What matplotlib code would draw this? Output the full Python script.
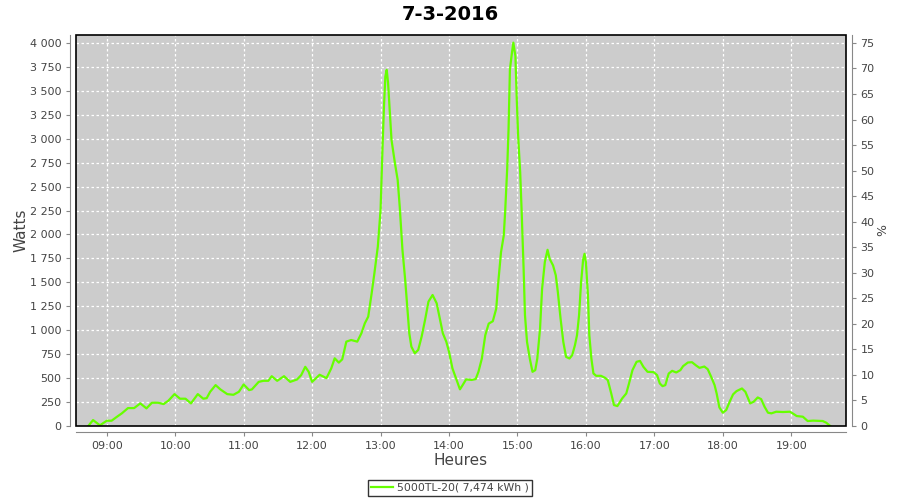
import matplotlib
matplotlib.use('Agg')
import matplotlib.pyplot as plt
from matplotlib.patches import Rectangle
from matplotlib.ticker import FuncFormatter, MultipleLocator

# time of day in decimal hours, power in W
hours = [8.73, 8.80, 8.90, 9.00, 9.07, 9.15, 9.22, 9.31, 9.40, 9.49, 9.58, 9.66, 9.75, 9.83, 9.90,
         9.99, 10.07, 10.15, 10.23, 10.33, 10.41, 10.46, 10.51, 10.59, 10.66, 10.76, 10.85, 10.93,
         11.00, 11.08, 11.12, 11.22, 11.29, 11.36, 11.41, 11.49, 11.59, 11.68, 11.78, 11.84, 11.90,
         11.95, 12.00, 12.11, 12.21, 12.28, 12.33, 12.39, 12.44, 12.50, 12.57, 12.66, 12.72, 12.77,
         12.82, 12.87, 12.91, 12.96, 13.00, 13.03, 13.05, 13.07, 13.09, 13.11, 13.13, 13.16, 13.21,
         13.25, 13.28, 13.32, 13.36, 13.39, 13.42, 13.45, 13.50, 13.55, 13.60, 13.65, 13.70, 13.76,
         13.82, 13.86, 13.91, 13.96, 14.00, 14.05, 14.11, 14.16, 14.20, 14.25, 14.33, 14.39, 14.43,
         14.48, 14.53, 14.58, 14.64, 14.69, 14.72, 14.76, 14.80, 14.82, 14.85, 14.87, 14.89, 14.92,
         14.94, 14.97, 14.99, 15.01, 15.04, 15.06, 15.09, 15.11, 15.14, 15.18, 15.22, 15.26, 15.29,
         15.33, 15.36, 15.40, 15.44, 15.47, 15.52, 15.56, 15.59, 15.63, 15.67, 15.71, 15.76, 15.80,
         15.84, 15.87, 15.90, 15.93, 15.96, 15.98, 16.00, 16.03, 16.05, 16.08, 16.11, 16.15, 16.22,
         16.28, 16.32, 16.37, 16.41, 16.46, 16.53, 16.59, 16.63, 16.68, 16.74, 16.79, 16.84, 16.90,
         16.99, 17.04, 17.08, 17.12, 17.16, 17.21, 17.26, 17.32, 17.38, 17.42, 17.49, 17.55, 17.61,
         17.66, 17.73, 17.78, 17.83, 17.88, 17.91, 17.95, 18.00, 18.05, 18.10, 18.15, 18.20, 18.28,
         18.33, 18.37, 18.40, 18.45, 18.51, 18.56, 18.61, 18.66, 18.71, 18.78, 18.88, 18.98, 19.02,
         19.08, 19.17, 19.24, 19.32, 19.46, 19.51, 19.57]
watts = [0, 62, 7, 55, 55, 97, 132, 187, 187, 236, 184, 243, 243, 229, 264,
         333, 285, 285, 236, 333, 285, 291, 357, 427, 382, 333, 326, 357,
         434, 375, 382, 461, 472, 472, 520, 472, 520, 461, 486, 531, 618,
         566, 461, 535, 500, 602, 707, 662, 696, 881, 898, 881, 968, 1072,
         1142, 1386, 1595, 1873, 2256, 2935, 3336, 3649, 3719, 3580, 3336, 2988, 2744,
         2570, 2291, 1839, 1525, 1247, 968, 829, 759, 794, 933, 1107, 1299, 1368,
         1281, 1142, 968, 881, 776, 602, 481, 383, 428, 487, 481, 490, 566,
         705, 948, 1069, 1094, 1226, 1503, 1816, 1989, 2233, 2684, 3100, 3725, 3899,
         4003, 3864, 3413, 3031, 2649, 2267, 1642, 1156, 878, 705, 566, 583, 705,
         1017, 1434, 1712, 1840, 1746, 1677, 1573, 1399, 1121, 878, 722, 705, 740,
         844, 948, 1156, 1503, 1739, 1798, 1712, 1364, 948, 705, 549, 524, 524,
         503, 479, 340, 219, 208, 288, 340, 444, 583, 670, 680, 618, 566,
         562, 531, 444, 416, 427, 548, 576, 559, 583, 625, 663, 666, 632,
         607, 621, 593, 514, 427, 340, 194, 139, 167, 253, 330, 364, 392,
         357, 288, 236, 253, 298, 281, 201, 139, 132, 149, 146, 149, 132,
         104, 97, 52, 56, 52, 35, 0]

hour_ticks = list(range(9, 20))
title = '7-3-2016'
series_label = '5000TL-20( 7,474 kWh )'

fig = plt.figure(figsize=(9, 5), dpi=100)
ax = fig.add_axes([0.0844, 0.148, 0.8556, 0.782])
ax.set_facecolor('#cccccc')

ax.plot(hours, watts, color='#66ff00', lw=1.6, label=series_label)

ax.set_xlim(8.55, 19.80)
ax.set_ylim(0, 4083)
ax.set_xticks(hour_ticks)
ax.xaxis.set_major_formatter(FuncFormatter(lambda v, p: '%02d:00' % int(round(v))))
ax.yaxis.set_major_locator(MultipleLocator(250))
ax.yaxis.set_major_formatter(FuncFormatter(lambda v, p: f'{int(v):,}'.replace(',', ' ')))
ax.grid(True, color='white', ls=(0, (2, 2)), lw=0.9)

ax2 = ax.twinx()
ax2.set_ylim(0, 4083 * 75 / 4000)
ax2.yaxis.set_major_locator(MultipleLocator(5))

for a in (ax, ax2):
    for s in a.spines.values():
        s.set_visible(False)
    a.tick_params(labelsize=8, labelcolor='#444444', color='#888888', length=3, width=0.8)
for name in ('left', 'bottom'):
    ax.spines[name].set_visible(True)
    ax.spines[name].set_position(('outward', 4))
    ax.spines[name].set_color('#888888')
ax2.spines['right'].set_visible(True)
ax2.spines['right'].set_position(('outward', 4))
ax2.spines['right'].set_color('#888888')

ax.add_patch(Rectangle((0, 0), 1, 1, transform=ax.transAxes, fill=False,
                       ec='black', lw=1.2, clip_on=False, zorder=5))

ax.set_xlabel('Heures', fontsize=11, color='#444444', labelpad=2)
ax.set_ylabel('Watts', fontsize=11, color='#444444', labelpad=1)
ax2.set_ylabel('%', fontsize=9, color='#444444', labelpad=1)

fig.suptitle(title, x=0.5, y=0.99, fontsize=14, fontweight='bold')

leg = fig.legend(loc='center', bbox_to_anchor=(0.5, 0.024), fontsize=7.8,
                 frameon=True, fancybox=False, handlelength=2, borderpad=0.3,
                 handletextpad=0.4)
leg.get_frame().set_edgecolor('black')
leg.get_frame().set_linewidth(1)
for t in leg.get_texts():
    t.set_color('#444444')

fig.savefig('out.png', dpi=100)
